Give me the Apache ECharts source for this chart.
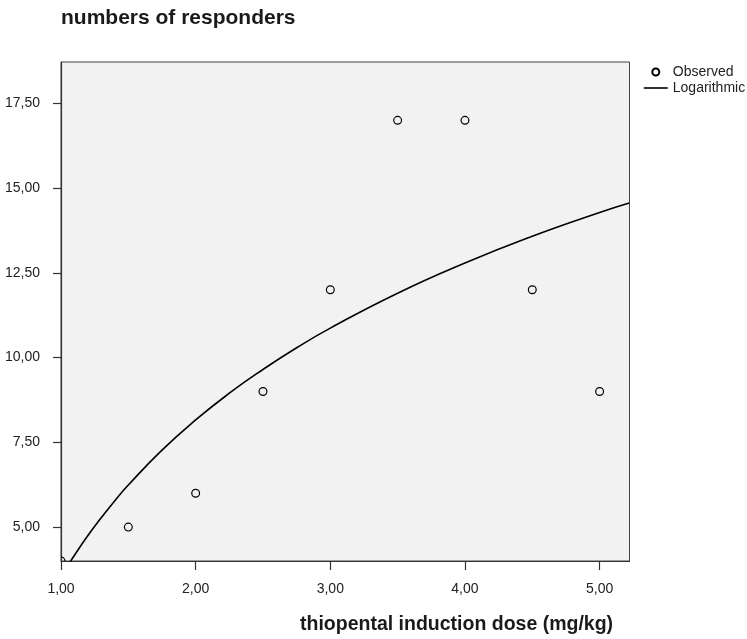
<!DOCTYPE html>
<html>
<head>
<meta charset="utf-8">
<script src="https://cdn.jsdelivr.net/npm/echarts@6/dist/echarts.min.js"></script>
<style>
html,body{margin:0;padding:0;background:#fff;}
#chart{width:747px;height:639px;}
</style>
</head>
<body>
<div id="chart"></div>
<script>
// Observed data
const doseObserved = [1.0, 1.5, 2.0, 2.5, 3.0, 3.5, 4.0, 4.5, 5.0];
const respondersObserved = [4, 5, 6, 9, 12, 17, 17, 12, 9];
// Logarithmic fit curve
const doseCurve = [1.05, 1.1, 1.2, 1.3, 1.4, 1.5, 1.75, 2.0, 2.25, 2.5, 2.75, 3.0, 3.5, 4.0, 4.5, 5.0, 5.22];
const respondersCurve = [3.86, 4.17, 4.75, 5.28, 5.78, 6.24, 7.27, 8.16, 8.95, 9.65, 10.29, 10.87, 11.90, 12.79, 13.58, 14.28, 14.56];
// Tick labels
const xTicks = [1, 2, 3, 4, 5];
const yTicks = [5, 7.5, 10, 12.5, 15, 17.5];

const FONT = "'Liberation Sans', Arial, sans-serif";
const fmt = v => Number(v).toFixed(2).replace('.', ',');

const chart = echarts.init(document.getElementById('chart'), null, {renderer: 'canvas'});
chart.setOption({
  animation: false,
  backgroundColor: '#ffffff',
  title: [
    {text: 'numbers of responders', left: 61, top: 8, padding: 0,
     textStyle: {fontFamily: FONT, fontSize: 21, fontWeight: 'bold', color: '#1a1a1a'}},
    {text: 'thiopental induction dose (mg/kg)', left: 300, top: 615, padding: 0,
     textStyle: {fontFamily: FONT, fontSize: 19.5, fontWeight: 'bold', color: '#1a1a1a'}}
  ],
  legend: {
    orient: 'vertical', left: 643, top: 65, padding: 0,
    itemWidth: 24, itemHeight: 7, itemGap: 2,
    textStyle: {fontFamily: FONT, fontSize: 14, color: '#222'},
    data: [
      {name: 'Observed', icon: 'emptyCircle',
       itemStyle: {color: '#000', borderColor: '#000', borderWidth: 1.1}},
      {name: 'Logarithmic',
       itemStyle: {color: 'rgba(0,0,0,0)', borderColor: 'rgba(0,0,0,0)', borderWidth: 0},
       lineStyle: {color: '#000', width: 1.6}}
    ]
  },
  grid: {left: 61, top: 62, right: 117.5, bottom: 78, containLabel: false,
         show: true, backgroundColor: '#f2f2f2', borderColor: '#444', borderWidth: 1},
  xAxis: {
    type: 'value', min: 1, max: 5.222,
    axisLine: {show: true, lineStyle: {color: '#333', width: 1.2}},
    axisTick: {show: true, length: 9, inside: false, customValues: xTicks, lineStyle: {color: '#333', width: 1.2}},
    axisLabel: {customValues: xTicks, margin: 21, formatter: fmt,
                fontFamily: FONT, fontSize: 14, color: '#222'},
    splitLine: {show: false}
  },
  yAxis: {
    type: 'value', min: 4, max: 18.72,
    axisLine: {show: true, lineStyle: {color: '#333', width: 1.2}},
    axisTick: {show: true, length: 8, inside: false, customValues: yTicks, lineStyle: {color: '#333', width: 1.2}},
    axisLabel: {customValues: yTicks, margin: 21, formatter: fmt,
                fontFamily: FONT, fontSize: 14, color: '#222'},
    splitLine: {show: false}
  },
  series: [
    {
      name: 'Observed', type: 'custom', clip: true,
      itemStyle: {color: '#000'},
      data: doseObserved.map((x, i) => [x, respondersObserved[i]]),
      renderItem: function (params, api) {
        const p = api.coord([api.value(0), api.value(1)]);
        return {type: 'circle', shape: {cx: p[0], cy: p[1], r: 3.9},
                style: {fill: 'none', stroke: '#000', lineWidth: 1.2}};
      },
      z: 3
    },
    {
      name: 'Logarithmic', type: 'line', clip: true, smooth: true,
      symbol: 'none', showSymbol: false,
      lineStyle: {color: '#000', width: 1.6},
      itemStyle: {color: '#000'},
      data: doseCurve.map((x, i) => [x, respondersCurve[i]]),
      z: 2
    }
  ]
});
</script>
</body>
</html>
